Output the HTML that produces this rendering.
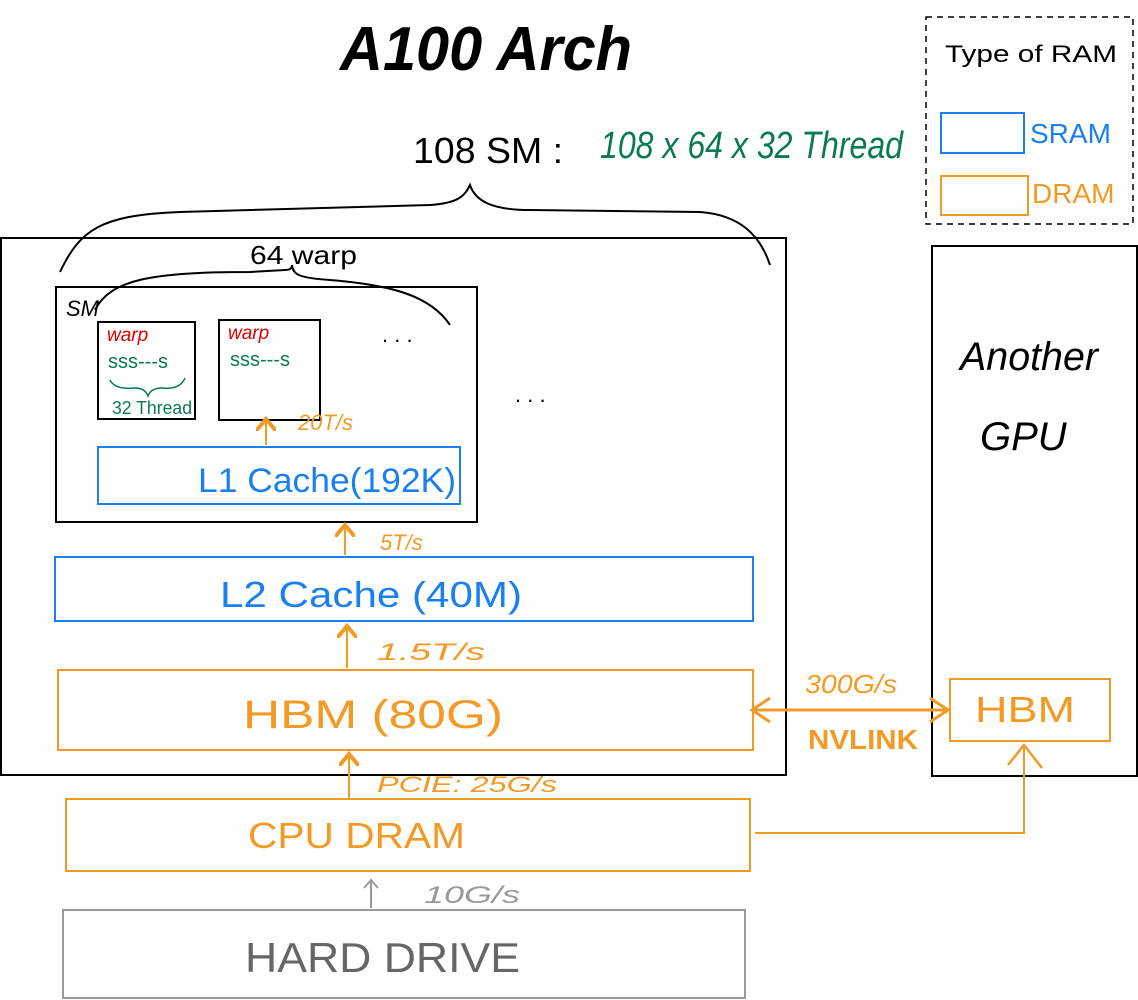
<!DOCTYPE html>
<html><head><meta charset="utf-8"><style>
html,body{margin:0;padding:0;background:#fff;}
svg{display:block;}
text{font-family:"Liberation Sans",sans-serif;}
</style></head><body>
<svg width="1138" height="1000" viewBox="0 0 1138 1000" xmlns="http://www.w3.org/2000/svg">
<defs>
<marker id="ao" markerWidth="10" markerHeight="10" refX="5" refY="5" orient="auto"><path d="M0,0 L6,5 L0,10" fill="none" stroke="#f39a25" stroke-width="2"/></marker>
</defs>
<text x="340" y="70" font-size="62" font-weight="bold" font-style="italic" fill="#000" textLength="292" lengthAdjust="spacingAndGlyphs">A100 Arch</text>
<rect x="926" y="17" width="207" height="207" fill="none" stroke="#000" stroke-width="1.5" stroke-dasharray="6,5"/>
<text x="945" y="62" font-size="24" fill="#000" textLength="172" lengthAdjust="spacingAndGlyphs">Type of RAM</text>
<rect x="941" y="113" width="83" height="40" fill="none" stroke="#1a7ff0" stroke-width="2"/>
<text x="1030" y="143" font-size="28" fill="#1a7ff0">SRAM</text>
<rect x="941" y="176" width="87" height="39" fill="none" stroke="#f39a25" stroke-width="2"/>
<text x="1032" y="203" font-size="28" fill="#f39a25">DRAM</text>
<text x="413" y="163" font-size="36" fill="#000" textLength="150" lengthAdjust="spacingAndGlyphs">108 SM :</text>
<text x="600" y="158" font-size="38" font-style="italic" fill="#0a7a50" textLength="303" lengthAdjust="spacingAndGlyphs">108 x 64 x 32 Thread</text>
<path d="M60,272 C80,230 100,215 180,212 L430,205 C460,203 465,195 470,185 C475,200 490,210 530,210 L700,212 C740,215 760,235 770,265" fill="none" stroke="#000" stroke-width="2"/>
<rect x="1" y="238" width="785" height="537" fill="none" stroke="#000" stroke-width="2"/>
<rect x="56" y="287" width="421" height="235" fill="none" stroke="#000" stroke-width="2"/>
<text x="66" y="316" font-size="22" font-style="italic" fill="#000">SM</text>
<text x="250" y="264" font-size="26" fill="#000" textLength="107" lengthAdjust="spacingAndGlyphs">64 warp</text>
<path d="M95,310 C110,280 150,272 250,272 L285,270 C290,270 292,268 292,265 C293,275 300,278 330,280 C390,285 430,295 450,325" fill="none" stroke="#000" stroke-width="2"/>
<rect x="98" y="322" width="97" height="97" fill="none" stroke="#000" stroke-width="2"/>
<text x="107" y="341" font-size="19" font-style="italic" fill="#d00">warp</text>
<text x="108" y="368" font-size="20" fill="#0a7a50">sss---s</text>
<path d="M110,380 Q115,390 135,388 Q145,388 148,396 Q151,388 162,388 Q180,390 185,378" fill="none" stroke="#0a7a50" stroke-width="1.5"/>
<text x="112" y="414" font-size="18" fill="#0a7a50" textLength="80" lengthAdjust="spacingAndGlyphs">32 Thread</text>
<rect x="219" y="320" width="101" height="100" fill="none" stroke="#000" stroke-width="2"/>
<text x="228" y="339" font-size="19" font-style="italic" fill="#d00">warp</text>
<text x="230" y="366" font-size="20" fill="#0a7a50">sss---s</text>
<text x="382" y="342" font-size="22" fill="#000">. . .</text>
<text x="515" y="402" font-size="22" fill="#000">. . .</text>
<line x1="266" y1="445" x2="266" y2="421" stroke="#f39a25" stroke-width="2" marker-end="url(#ao)"/>
<text x="298" y="430" font-size="22" font-style="italic" fill="#f39a25">20T/s</text>
<rect x="98" y="447" width="362" height="57" fill="none" stroke="#1a7ff0" stroke-width="2"/>
<text x="198" y="492" font-size="34" fill="#1a7ff0" textLength="258" lengthAdjust="spacingAndGlyphs">L1 Cache(192K)</text>
<line x1="345" y1="555" x2="345" y2="527" stroke="#f39a25" stroke-width="2" marker-end="url(#ao)"/>
<text x="380" y="550" font-size="22" font-style="italic" fill="#f39a25">5T/s</text>
<rect x="55" y="557" width="698" height="64" fill="none" stroke="#1a7ff0" stroke-width="2"/>
<text x="220" y="607" font-size="36" fill="#1a7ff0" textLength="302" lengthAdjust="spacingAndGlyphs">L2 Cache (40M)</text>
<line x1="347" y1="668" x2="347" y2="628" stroke="#f39a25" stroke-width="2" marker-end="url(#ao)"/>
<text x="377" y="660" font-size="24" font-style="italic" fill="#f39a25" textLength="108" lengthAdjust="spacingAndGlyphs">1.5T/s</text>
<rect x="58" y="670" width="695" height="80" fill="none" stroke="#f39a25" stroke-width="2"/>
<text x="243" y="728" font-size="40" fill="#f39a25" textLength="260" lengthAdjust="spacingAndGlyphs">HBM (80G)</text>
<line x1="349" y1="800" x2="349" y2="756" stroke="#f39a25" stroke-width="2" marker-end="url(#ao)"/>
<text x="377" y="792" font-size="22" font-style="italic" fill="#f39a25" textLength="180" lengthAdjust="spacingAndGlyphs">PCIE: 25G/s</text>
<rect x="66" y="799" width="684" height="72" fill="none" stroke="#f39a25" stroke-width="2"/>
<text x="248" y="848" font-size="36" fill="#f39a25" textLength="217" lengthAdjust="spacingAndGlyphs">CPU DRAM</text>
<line x1="371" y1="908" x2="371" y2="882" stroke="#999" stroke-width="2"/>
<path d="M364,888 L371,880 L378,888" fill="none" stroke="#999" stroke-width="2"/>
<text x="424" y="903" font-size="24" font-style="italic" fill="#999" textLength="96" lengthAdjust="spacingAndGlyphs">10G/s</text>
<rect x="63" y="910" width="682" height="88" fill="none" stroke="#999" stroke-width="2"/>
<text x="245" y="972" font-size="42" fill="#666" textLength="275" lengthAdjust="spacingAndGlyphs">HARD DRIVE</text>
<rect x="932" y="246" width="205" height="530" fill="none" stroke="#000" stroke-width="2"/>
<text x="960" y="370" font-size="40" font-style="italic" fill="#000" textLength="138" lengthAdjust="spacingAndGlyphs">Another</text>
<text x="980" y="450" font-size="40" font-style="italic" fill="#000">GPU</text>
<rect x="950" y="679" width="160" height="62" fill="none" stroke="#f39a25" stroke-width="2"/>
<text x="975" y="722" font-size="36" fill="#f39a25" textLength="100" lengthAdjust="spacingAndGlyphs">HBM</text>
<line x1="752" y1="710" x2="948" y2="710" stroke="#f39a25" stroke-width="3"/>
<path d="M770,698 L752,710 L770,722" fill="none" stroke="#f39a25" stroke-width="3"/>
<path d="M930,698 L948,710 L930,722" fill="none" stroke="#f39a25" stroke-width="3"/>
<text x="805" y="693" font-size="26" font-style="italic" fill="#f39a25" textLength="92" lengthAdjust="spacingAndGlyphs">300G/s</text>
<text x="808" y="749" font-size="28" font-weight="bold" fill="#f39a25" textLength="110" lengthAdjust="spacingAndGlyphs">NVLINK</text>
<path d="M755,833 L1024,833 L1024,745" fill="none" stroke="#f39a25" stroke-width="2"/>
<path d="M1008,765 L1024,745 L1042,768" fill="none" stroke="#f39a25" stroke-width="2.5"/>
</svg>
</body></html>
